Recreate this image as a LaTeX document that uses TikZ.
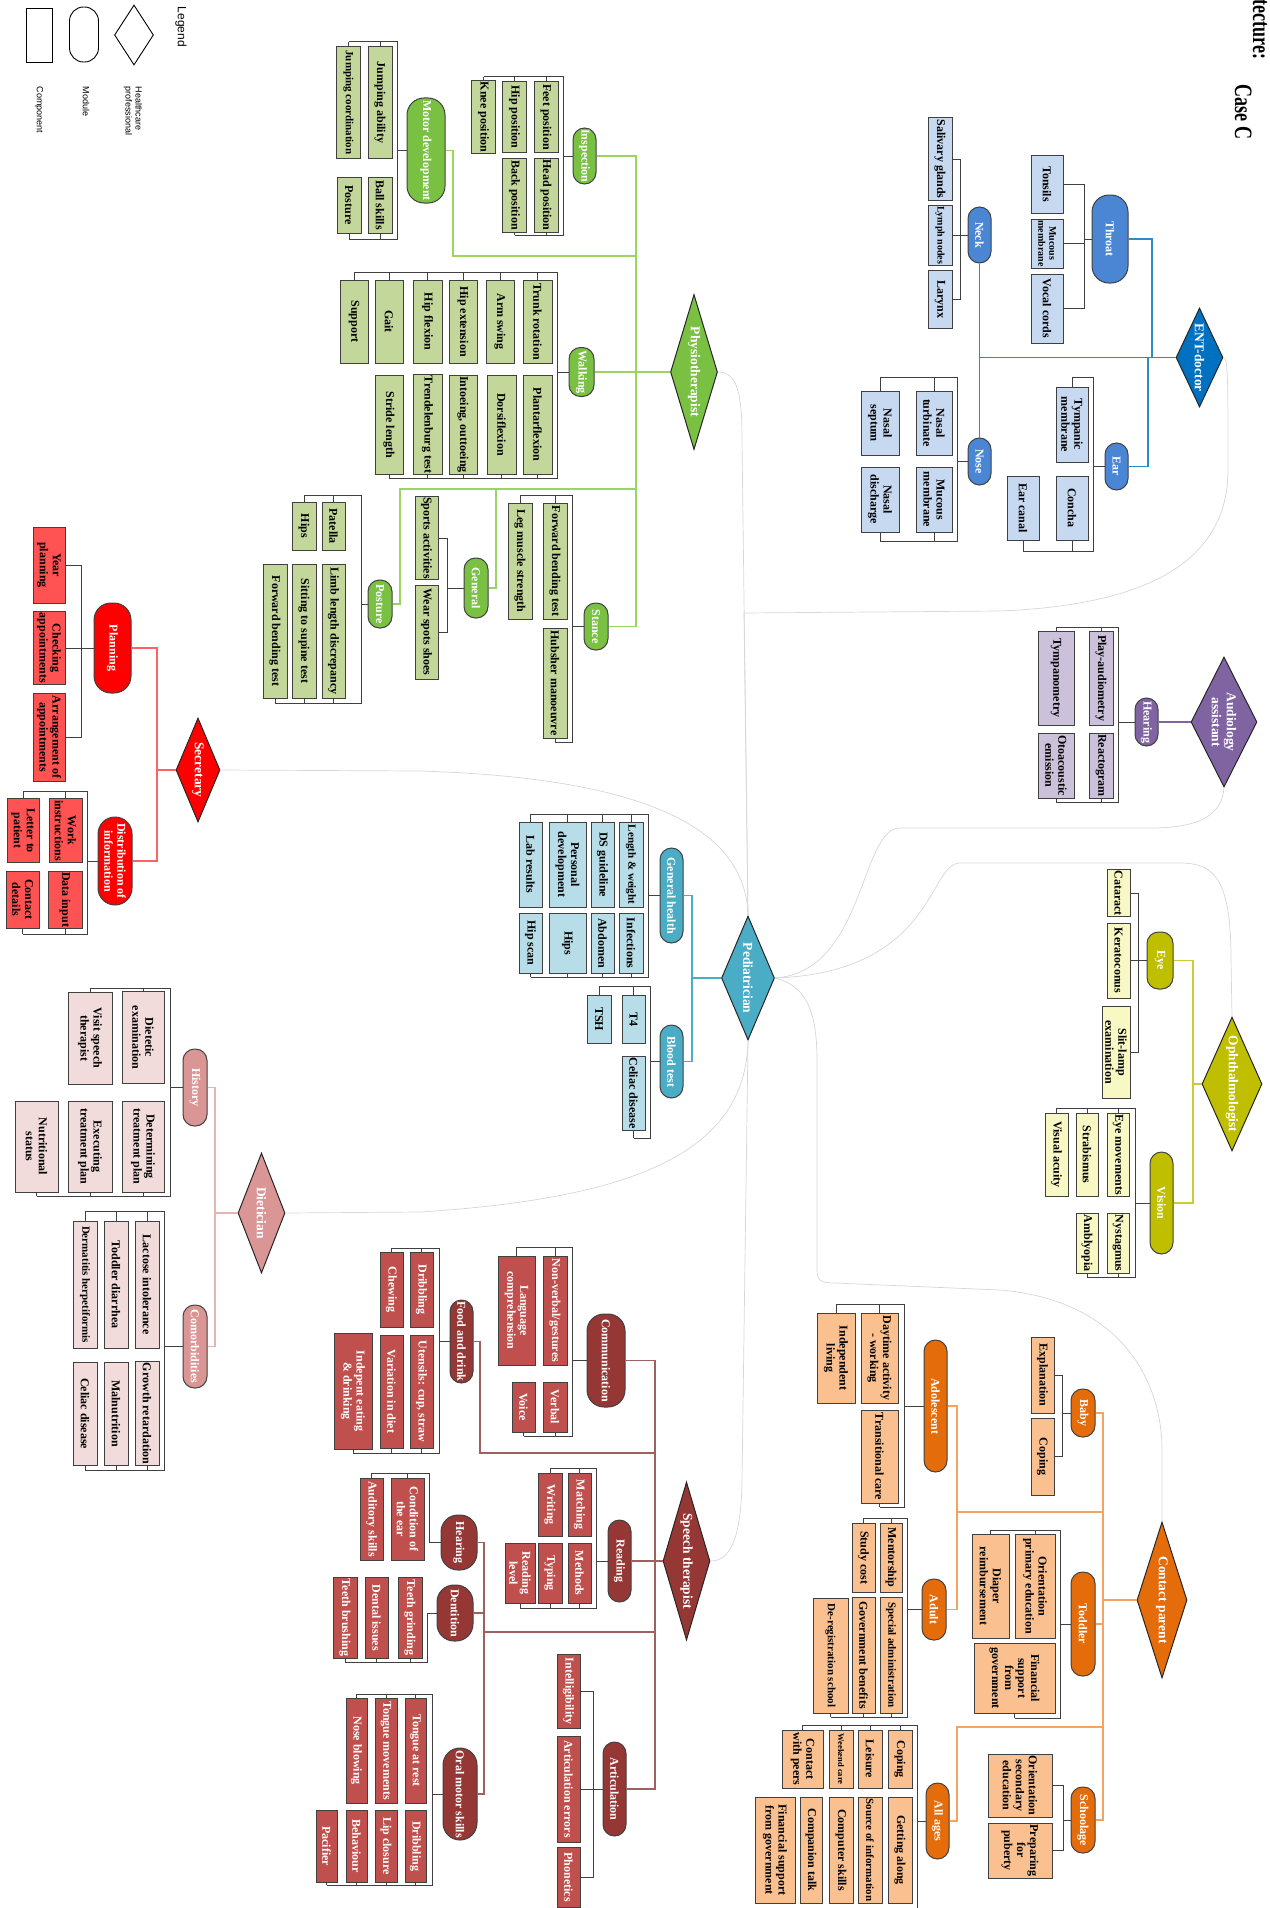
\documentclass[tikz,border=0pt]{standalone}
\usepackage{fontspec}
\setmainfont{Liberation Serif}
\newfontfamily\legendfont{Liberation Sans}
\usepackage{graphicx}
\usepackage{xcolor}
\usepackage{tikz}
\usetikzlibrary{shapes.geometric}
\definecolor{physgreen}{HTML}{7AC143}
\definecolor{physlight}{HTML}{C4D79B}
\definecolor{physline}{HTML}{9BD45F}
\definecolor{entblue}{HTML}{0070C0}
\definecolor{entmid}{HTML}{4A86D4}
\definecolor{entlight}{HTML}{C6D9F1}
\definecolor{entline}{HTML}{2E8BCB}
\definecolor{audpurple}{HTML}{8064A2}
\definecolor{audlight}{HTML}{CCC1DA}
\definecolor{ophyellow}{HTML}{BFBF00}
\definecolor{ophlight}{HTML}{F8F8C4}
\definecolor{ophline}{HTML}{CACA3A}
\definecolor{pedteal}{HTML}{4BACC6}
\definecolor{pedlight}{HTML}{B7DEE8}
\definecolor{secred}{HTML}{FF0000}
\definecolor{seclight}{HTML}{FF5252}
\definecolor{secline}{HTML}{FF6060}
\definecolor{dietrose}{HTML}{D99694}
\definecolor{dietlight}{HTML}{F2DCDB}
\definecolor{dietline}{HTML}{E8B4B3}
\definecolor{speechred}{HTML}{953735}
\definecolor{speechlight}{HTML}{C0504D}
\definecolor{speechline}{HTML}{A0605D}
\definecolor{parorange}{HTML}{E46C0A}
\definecolor{parlight}{HTML}{FAC090}
\definecolor{parline}{HTML}{F4A460}
\begin{document}
\begin{tikzpicture}[x=1pt,y=-1pt,
  box/.style={rectangle,draw=black!75,line width=1pt,rotate=-90,inner sep=1pt,align=center,font=\fontsize{12}{13}\selectfont\bfseries},
  mod/.style={rectangle,rounded corners=11.5pt,draw=black!75,line width=1pt,rotate=-90,inner sep=1pt,align=center,text=white,font=\fontsize{12}{13}\selectfont\bfseries},
  big/.style={rounded corners=17pt},
  prof/.style={diamond,aspect=3,draw=black!85,line width=1pt,rotate=-90,inner sep=0pt,align=center,text=white,font=\fontsize{13.5}{15}\selectfont\bfseries},
  wh/.style 2 args={minimum height=#1,minimum width=#2},
  nr/.style={font=\fontsize{11}{12}\selectfont\bfseries},
  sm/.style={font=\fontsize{10}{11}\selectfont\bfseries},
  xs/.style={font=\fontsize{8.5}{9.5}\selectfont\bfseries},
  brk/.style={draw=black!75,line width=1pt},
  hub/.style={draw=black!16,line width=0.7pt},
  lgtext/.style={rotate=-90,anchor=west,align=left,font=\legendfont\fontsize{9}{10}\selectfont},
  physc/.style={box,fill=physlight},physm/.style={mod,fill=physgreen},physl/.style={draw=physline,line width=1.1pt},
  entc/.style={box,fill=entlight},entm/.style={mod,fill=entmid},entl/.style={draw=entline,line width=1.1pt},
  audc/.style={box,fill=audlight},audm/.style={mod,fill=audpurple},audl/.style={draw=audpurple,line width=1.1pt},
  ophc/.style={box,fill=ophlight},ophm/.style={mod,fill=ophyellow},ophl/.style={draw=ophline,line width=1.1pt},
  pedc/.style={box,fill=pedlight},pedm/.style={mod,fill=pedteal},pedl/.style={draw=pedteal,line width=1.1pt},
  secc/.style={box,fill=seclight},secm/.style={mod,fill=secred},secl/.style={draw=secline,line width=1.1pt},
  dietc/.style={box,fill=dietlight},dietm/.style={mod,fill=dietrose},dietl/.style={draw=dietline,line width=1.1pt},
  spc/.style={box,fill=speechlight,text=white},spm/.style={mod,fill=speechred},spl/.style={draw=speechline,line width=1.1pt},
  parc/.style={box,fill=parlight},parm/.style={mod,fill=parorange},parl/.style={draw=parline,line width=1.1pt}]
\useasboundingbox (0,0) rectangle (1269,1908);

\node[rotate=-90,anchor=base east,font=\fontsize{25}{28}\selectfont\bfseries] (title1) at (1253,63) {\scalebox{0.72}[1]{Modular service architecture:}};
\node[rotate=-90,anchor=base,font=\fontsize{25}{28}\selectfont\bfseries] (title2) at (1235,112) {\scalebox{0.72}[1]{Case C}};

\node[rotate=-90,font=\legendfont\fontsize{12}{14}\selectfont] (legend) at (181,27) {Legend};
\node[diamond,draw,line width=0.9pt,rotate=-90,minimum width=60,minimum height=39,inner sep=0pt] (lgprof) at (134,35) {};
\node[rectangle,rounded corners=14pt,draw,line width=0.9pt,rotate=-90,minimum width=55,minimum height=29] (lgmod) at (84,34.5) {};
\node[rectangle,draw,line width=0.9pt,rotate=-90,minimum width=54,minimum height=26] (lgcomp) at (39,35) {};
\node[lgtext] (lgproft) at (133,83) {Healthcare\\professional};
\node[lgtext] (lgmodt) at (86,83) {Module};
\node[lgtext] (lgcompt) at (39,83) {Component};

\node[prof,fill=physgreen,wh={47}{155}] (phys) at (694,372) {Physiotherapist};
\node[physm,wh={23}{56}] (insp) at (584.5,156) {Inspection};
\node[physm,wh={25}{49}] (walk) at (581.5,372) {Walking};
\node[physm,big,wh={38}{105}] (motor) at (426,150.5) {Motor development};
\node[physm,wh={24}{47}] (stance) at (596,626.5) {Stance};
\node[physm,wh={24}{60}] (general) at (476,588) {General};
\node[physm,wh={24}{48}] (posture) at (380,604) {Posture};
\node[physc,wh={24}{70}] (feet) at (546,117) {Feet position};
\node[physc,wh={24}{70}] (hippos) at (514.5,117) {Hip position};
\node[physc,wh={24}{70}] (knee) at (483.5,117) {Knee position};
\node[physc,wh={24}{74}] (head) at (546,195) {Head position};
\node[physc,wh={24}{74}] (back) at (514.5,195) {Back position};
\node[physc,wh={24}{111}] (jumpab) at (380,102.5) {Jumping ability};
\node[physc,nr,wh={24}{111}] (jumpco) at (348.5,102.5) {Jumping coordination};
\node[physc,wh={24}{56}] (ball) at (380,205) {Ball skills};
\node[physc,wh={24}{56}] (posturec) at (349,205) {Posture};
\node[physc,wh={29}{83}] (trunk) at (537.5,321.5) {Trunk rotation};
\node[physc,wh={28}{83}] (arm) at (500,321.5) {Arm swing};
\node[physc,wh={28}{83}] (hipext) at (463,321.5) {Hip extension};
\node[physc,wh={29}{83}] (hipflex) at (427.5,321.5) {Hip flexion};
\node[physc,wh={28}{83}] (gait) at (389,321.5) {Gait};
\node[physc,wh={28}{83}] (support) at (354,321.5) {Support};
\node[physc,wh={29}{99}] (plantar) at (537.5,424.5) {Plantarflexion};
\node[physc,wh={29}{99}] (dorsi) at (501.5,424.5) {Dorsiflexion};
\node[physc,wh={28}{99}] (intoe) at (463,424.5) {Intoeing, outtoeing};
\node[physc,wh={29}{99}] (trend) at (427.5,424.5) {Trendelenburg test};
\node[physc,wh={28}{99}] (stride) at (389,424.5) {Stride length};
\node[physc,wh={24}{116}] (fwd1) at (555,561) {Forward bending test};
\node[physc,wh={24}{116}] (leg) at (520,561) {Leg muscle strength};
\node[physc,wh={24}{110}] (hubsher) at (555,683) {Hubsher manoeuvre};
\node[physc,wh={23}{83}] (sports) at (426.5,538) {Sports activities};
\node[physc,wh={23}{94}] (wear) at (426.5,632) {Wear spots shoes};
\node[physc,wh={23}{48}] (patella) at (333.5,526) {Patella};
\node[physc,wh={24}{48}] (hips) at (304,526) {Hips};
\node[physc,wh={23}{134}] (limb) at (333.5,631) {Limb length discrepancy};
\node[physc,wh={24}{134}] (sitting) at (304,631) {Sitting to supine test};
\node[physc,wh={24}{134}] (fwd2) at (275,631) {Forward bending test};

\draw[physl] (phys.south) -- (walk.north);
\draw[physl] (insp.north) -- (636,156) -- (636,626.5) -- (stance.north);
\draw[physl] (motor.north) -- (453,150.5) -- (453,256) -- (636,256);
\draw[physl] (posture.north) -| (400,489) -- (636,489);
\draw[physl] (general.north) -| (496,489);
\draw[brk] (insp.south) -- (563,156) (483.5,77) -- (563,77) -- (563,235) -- (514.5,235);
\foreach \n in {feet,hippos,knee} \draw[brk] (\n.west) -- (\n.west |- 0,77);
\foreach \n in {head,back} \draw[brk] (\n.east) -- (\n.east |- 0,235);
\draw[brk] (motor.south) -- (397,150.5) (348.5,42) -- (397,42) -- (397,239) -- (349,239);
\foreach \n in {jumpab,jumpco} \draw[brk] (\n.west) -- (\n.west |- 0,42);
\foreach \n in {ball,posturec} \draw[brk] (\n.east) -- (\n.east |- 0,239);
\draw[brk] (walk.south) -- (557,372) (354,272) -- (557,272) -- (557,478) -- (389,478);
\foreach \n in {trunk,arm,hipext,hipflex,gait,support} \draw[brk] (\n.west) -- (\n.west |- 0,272);
\foreach \n in {plantar,dorsi,intoe,trend,stride} \draw[brk] (\n.east) -- (\n.east |- 0,478);
\draw[brk] (stance.south) -- (572,626.5) (520,495) -- (572,495) -- (572,742) -- (555,742);
\foreach \n in {fwd1,leg} \draw[brk] (\n.west) -- (\n.west |- 0,495);
\draw[brk] (hubsher.east) -- (hubsher.east |- 0,742);
\draw[brk] (general.south) -- (447,588) (sports.north) -- (447,538) -- (447,632) -- (wear.north);
\draw[brk] (posture.south) -- (361,604) (304,495) -- (361,495) -- (361,703) -- (275,703);
\foreach \n in {patella,hips} \draw[brk] (\n.west) -- (\n.west |- 0,495);
\foreach \n in {limb,sitting,fwd2} \draw[brk] (\n.east) -- (\n.east |- 0,703);

\node[prof,fill=entblue,wh={47}{99}] (ent) at (1199.5,357.5) {ENT-doctor};
\node[entm,big,wh={36}{88}] (throat) at (1110,239) {Throat};
\node[entm,wh={23}{56}] (neck) at (979.5,235) {Neck};
\node[entm,wh={23}{47}] (nose) at (979.5,461.5) {Nose};
\node[entm,wh={23}{47}] (ear) at (1116.5,466.5) {Ear};
\node[entc,wh={32}{58}] (tonsils) at (1047,184) {Tonsils};
\node[entc,sm,wh={32}{49}] (mucthr) at (1047,243.5) {Mucous\\membrane};
\node[entc,wh={32}{69}] (vocal) at (1047,308.5) {Vocal cords};
\node[entc,wh={24}{82}] (saliv) at (940,159) {Salivary glands};
\node[entc,sm,wh={24}{59}] (lymph) at (940,235.5) {Lymph nodes};
\node[entc,wh={24}{58}] (larynx) at (940,299) {Larynx};
\node[entc,wh={36}{64}] (turb) at (934,423) {Nasal\\turbinate};
\node[entc,wh={38}{64}] (septum) at (880,423) {Nasal\\septum};
\node[entc,wh={36}{65}] (mucnose) at (934,499.5) {Mucous\\membrane};
\node[entc,wh={38}{65}] (disch) at (880,499.5) {Nasal\\discharge};
\node[entc,wh={32}{75}] (tymp) at (1072,424.5) {Tympanic\\membrane};
\node[entc,wh={32}{64}] (concha) at (1072,508) {Concha};
\node[entc,wh={32}{64}] (canal) at (1023,508) {Ear canal};

\draw[entl] (neck.east) -- (nose.west);
\draw[entl] (ent.south) -- (ent.south -| neck.east);
\draw[entl] (throat.north) -- (1152,239) -- (1152,357.5);
\draw[entl] (ear.north) -- (1148,466.5) -- (1148,357.5);
\draw[brk] (throat.south) -- (1084,239) (tonsils.north) -- (1084,184) -- (1084,308.5) -- (vocal.north) (mucthr.north) -- (1084,243.5);
\draw[brk] (neck.south) -- (960,235) (saliv.north) -- (960,159) -- (960,299) -- (larynx.north) (lymph.north) -- (960,235.5);
\draw[brk] (nose.south) -- (957,461.5) (880,377) -- (957,377) -- (957,541) -- (880,541);
\foreach \n in {turb,septum} \draw[brk] (\n.west) -- (\n.west |- 0,377);
\foreach \n in {mucnose,disch} \draw[brk] (\n.east) -- (\n.east |- 0,541);
\draw[brk] (ear.south) -- (1093,466.5) (1072,377) -- (1093,377) -- (1093,551) -- (1023,551);
\draw[brk] (tymp.west) -- (tymp.west |- 0,377);
\foreach \n in {concha,canal} \draw[brk] (\n.east) -- (\n.east |- 0,551);

\node[prof,fill=audpurple,aspect=2.2,wh={66}{130}] (aud) at (1224,722) {Audiology\\assistant};
\node[audm,wh={23}{48}] (hear1) at (1146.5,722) {Hearing};
\node[audc,wh={24}{94}] (play) at (1101,678) {Play-audiometry};
\node[audc,wh={36}{94}] (tympano) at (1056,678) {Tympanometry};
\node[audc,wh={24}{65}] (reacto) at (1101,765.5) {Reactogram};
\node[audc,wh={36}{65}] (oto) at (1056,765.5) {Otoacoustic\\emission};
\draw[audl] (aud.south) -- (hear1.north);
\draw[brk] (hear1.south) -- (1118,722) (1056,627) -- (1118,627) -- (1118,802) -- (1056,802);
\foreach \n in {play,tympano} \draw[brk] (\n.west) -- (\n.west |- 0,627);
\foreach \n in {reacto,oto} \draw[brk] (\n.east) -- (\n.east |- 0,802);

\node[prof,fill=ophyellow,wh={60}{128}] (oph) at (1232,1084) {Ophthalmologist};
\node[ophm,wh={26}{57}] (eye) at (1160,960.5) {Eye};
\node[ophm,wh={23}{102}] (vision) at (1161.5,1203) {Vision};
\node[ophc,wh={23}{46}] (cataract) at (1118.5,893) {Cataract};
\node[ophc,wh={23}{75}] (kerato) at (1118.5,960.5) {Keratoconus};
\node[ophc,wh={28}{92}] (slit) at (1116,1052) {Slit-lamp\\examination};
\node[ophc,wh={22}{83}] (eyemov) at (1118,1154.5) {Eye movements};
\node[ophc,wh={22}{83}] (strab) at (1087,1154.5) {Strabismus};
\node[ophc,wh={23}{83}] (visual) at (1056.5,1154.5) {Visual acuity};
\node[ophc,wh={22}{60}] (nyst) at (1118,1243) {Nystagmus};
\node[ophc,wh={22}{60}] (ambly) at (1087,1243) {Amblyopia};
\draw[ophl] (oph.south) -- (1193,1084);
\draw[ophl] (eye.north) -- (1193,960.5) -- (1193,1203) -- (vision.north);
\draw[brk] (eye.south) -- (1138,960.5) (cataract.north) -- (1138,893) -- (1138,1052) -- (slit.north) (kerato.north) -- (1138,960.5);
\draw[brk] (vision.south) -- (1135,1203) (1056.5,1108) -- (1135,1108) -- (1135,1277) -- (1087,1277);
\foreach \n in {eyemov,strab,visual} \draw[brk] (\n.west) -- (\n.west |- 0,1108);
\foreach \n in {nyst,ambly} \draw[brk] (\n.east) -- (\n.east |- 0,1277);

\node[prof,fill=pedteal,wh={53}{124}] (pedi) at (748,978) {Pediatrician};
\node[pedm,wh={23}{95}] (genh) at (671.5,895.5) {General health};
\node[pedm,wh={23}{73}] (blood) at (671.5,1061.5) {Blood test};
\node[pedc,nr,wh={24}{85}] (lenw) at (631,864.5) {Length \& weight};
\node[pedc,wh={23}{85}] (dsg) at (602.5,864.5) {DS guideline};
\node[pedc,wh={37}{85}] (persdev) at (567.5,864.5) {Personal\\development};
\node[pedc,wh={23}{85}] (lab) at (530.5,864.5) {Lab results};
\node[pedc,wh={24}{60}] (infect) at (631,943) {Infections};
\node[pedc,wh={23}{60}] (abdomen) at (602.5,943) {Abdomen};
\node[pedc,wh={37}{60}] (hips2) at (567.5,943) {Hips};
\node[pedc,wh={23}{60}] (hipscan) at (530.5,943) {Hip scan};
\node[pedc,wh={23}{48}] (t4) at (633.5,1019) {T4};
\node[pedc,wh={24}{48}] (tsh) at (599,1019) {TSH};
\node[pedc,wh={23}{74}] (celiac1) at (633.5,1093) {Celiac disease};
\draw[pedl] (pedi.south) -- (692,978);
\draw[pedl] (genh.north) -- (692,895.5) -- (692,1061.5) -- (blood.north);
\draw[brk] (genh.south) -- (648,895.5) (530.5,814) -- (648,814) -- (648,977) -- (530.5,977);
\foreach \n in {lenw,dsg,persdev,lab} \draw[brk] (\n.west) -- (\n.west |- 0,814);
\foreach \n in {infect,abdomen,hips2,hipscan} \draw[brk] (\n.east) -- (\n.east |- 0,977);
\draw[brk] (blood.south) -- (650,1061.5) (599,986) -- (650,986) -- (650,1138) -- (633.5,1138);
\foreach \n in {t4,tsh} \draw[brk] (\n.west) -- (\n.west |- 0,986);
\draw[brk] (celiac1.east) -- (celiac1.east |- 0,1138);

\node[prof,fill=secred,wh={44}{104}] (secr) at (198,770) {Secretary};
\node[secm,big,wh={37}{90}] (plan) at (112.5,648) {Planning};
\node[secm,big,wh={34}{88}] (distr) at (115,861) {Distribution of\\information};
\node[secc,wh={32}{76}] (year) at (49,565) {Year\\planning};
\node[secc,wh={32}{72}] (check) at (49,648) {Checking\\appointments};
\node[secc,wh={32}{88}] (arrange) at (49,737) {Arrangement of\\appointments};
\node[secc,wh={33}{64}] (work) at (65.5,830.5) {Work\\instructions};
\node[secc,wh={32}{64}] (letter) at (23,830.5) {Letter to\\patient};
\node[secc,wh={34}{57}] (datain) at (65,899.5) {Data input};
\node[secc,wh={33}{57}] (contact) at (22.5,899.5) {Contact\\details};
\draw[secl] (secr.south) -- (157,770);
\draw[secl] (plan.north) -- (157,648) -- (157,861) -- (distr.north);
\draw[brk] (plan.south) -- (81,648) (year.north) -- (81,565) -- (81,737) -- (arrange.north) (check.north) -- (81,648);
\draw[brk] (distr.south) -- (87,861) (23,791) -- (87,791) -- (87,934) -- (22.5,934);
\foreach \n in {work,letter} \draw[brk] (\n.west) -- (\n.west |- 0,791);
\foreach \n in {datain,contact} \draw[brk] (\n.east) -- (\n.east |- 0,934);

\node[prof,fill=dietrose,wh={47}{120}] (diet) at (261.5,1213) {Dietician};
\node[dietm,wh={24}{77}] (hist) at (195,1087.5) {History};
\node[dietm,wh={24}{83}] (comorb) at (195,1346.5) {Comorbidities};
\node[dietc,wh={42}{92}] (dietex) at (143,1037.5) {Dietetic\\examination};
\node[dietc,wh={44}{92}] (visit) at (90,1038) {Visit speech\\therapist};
\node[dietc,wh={42}{91}] (determ) at (143,1146.5) {Determining\\treatment plan};
\node[dietc,wh={44}{91}] (exec) at (90,1146.5) {Executing\\treatment plan};
\node[dietc,wh={43}{91}] (nutri) at (36.5,1146.5) {Nutritional\\status};
\node[dietc,wh={24}{127}] (lactose) at (147,1284.5) {Lactose intolerance};
\node[dietc,wh={24}{127}] (toddl) at (116,1284.5) {Toddler diarrhea};
\node[dietc,nr,wh={24}{127}] (derm) at (85,1284.5) {Dermatitis herpetiformis};
\node[dietc,wh={24}{103}] (growth) at (147,1413.5) {Growth retardation};
\node[dietc,wh={24}{103}] (malnu) at (116,1413.5) {Malnutrition};
\node[dietc,wh={24}{103}] (celiac2) at (85,1413.5) {Celiac disease};
\draw[dietl] (diet.south) -- (215,1213);
\draw[dietl] (hist.north) -- (215,1087.5) -- (215,1346.5) -- (comorb.north);
\draw[brk] (hist.south) -- (170,1087.5) (90,988) -- (170,988) -- (170,1196) -- (36.5,1196);
\foreach \n in {dietex,visit} \draw[brk] (\n.west) -- (\n.west |- 0,988);
\foreach \n in {determ,exec,nutri} \draw[brk] (\n.east) -- (\n.east |- 0,1196);
\draw[brk] (comorb.south) -- (164,1346.5) (85,1211) -- (164,1211) -- (164,1470) -- (85,1470);
\foreach \n in {lactose,toddl,derm} \draw[brk] (\n.west) -- (\n.west |- 0,1211);
\foreach \n in {growth,malnu,celiac2} \draw[brk] (\n.east) -- (\n.east |- 0,1470);

\node[prof,fill=speechred,wh={47}{158}] (speech) at (686.5,1561) {Speech therapist};
\node[spm,big,wh={38}{93}] (comm) at (606,1360.5) {Communication};
\node[spm,wh={23}{82}] (read) at (619.5,1561) {Reading};
\node[spm,wh={23}{94}] (artic) at (614.5,1789) {Articulation};
\node[spm,wh={23}{83}] (food) at (461.5,1341.5) {Food and drink};
\node[spm,big,wh={36}{55}] (hear2) at (459,1542.5) {Hearing};
\node[spm,big,wh={36}{56}] (dent) at (455,1613) {Dentition};
\node[spm,big,wh={34}{92}] (oral) at (460,1794) {Oral motor skills};
\node[spc,wh={24}{109}] (nonverb) at (555,1310.5) {Non-verbal/gestures};
\node[spc,wh={37}{109}] (lang) at (516.5,1310.5) {Language\\comprehension};
\node[spc,wh={24}{50}] (verbal) at (555,1407) {Verbal};
\node[spc,wh={23}{50}] (voice) at (523.5,1407) {Voice};
\node[spc,wh={23}{63}] (matching) at (579.5,1504.5) {Matching};
\node[spc,wh={24}{63}] (writing) at (550,1504.5) {Writing};
\node[spc,wh={23}{60}] (methods) at (579.5,1573) {Methods};
\node[spc,wh={24}{60}] (typing) at (550,1573) {Typing};
\node[spc,wh={30}{60}] (readlvl) at (520,1573) {Reading\\level};
\node[spc,wh={23}{74}] (intell) at (568.5,1691) {Intelligibility};
\node[spc,wh={23}{106}] (arterr) at (568.5,1789) {Articulation errors};
\node[spc,wh={23}{60}] (phon) at (568.5,1877) {Phonetics};
\node[spc,wh={23}{75}] (dribb1) at (421.5,1289.5) {Dribbling};
\node[spc,wh={23}{75}] (chew) at (391.5,1289.5) {Chewing};
\node[spc,wh={23}{113}] (utens) at (421.5,1391.5) {Utensils: cup, straw};
\node[spc,wh={23}{113}] (variat) at (391.5,1391.5) {Variation in diet};
\node[spc,wh={38}{116}] (indep) at (353,1391) {Indepent eating\\\& drinking};
\node[spc,wh={33}{82}] (cond) at (407.5,1519) {Condition of\\the ear};
\node[spc,wh={23}{82}] (audit) at (371.5,1519) {Auditory skills};
\node[spc,wh={24}{81}] (grind) at (410,1617.5) {Teeth grinding};
\node[spc,wh={23}{81}] (dental) at (376.5,1617.5) {Dental issues};
\node[spc,wh={24}{81}] (brush) at (345,1617.5) {Teeth brushing};
\node[spc,wh={21}{105}] (tongrest) at (415.5,1750.5) {Tongue at rest};
\node[spc,wh={22}{105}] (tongmov) at (386,1750.5) {Tongue movements};
\node[spc,wh={21}{105}] (noseb) at (356.5,1750.5) {Nose blowing};
\node[spc,wh={21}{72}] (dribb2) at (415.5,1846) {Dribbling};
\node[spc,wh={22}{72}] (lip) at (386,1846) {Lip closure};
\node[spc,wh={21}{72}] (behav) at (356.5,1846) {Behaviour};
\node[spc,wh={21}{72}] (pacif) at (326.5,1846) {Pacifier};
\draw[spl] (speech.south) -- (655,1561);
\draw[spl] (comm.north) -- (655,1360.5) -- (655,1789) -- (artic.north);
\draw[spl] (read.north) -- (655,1561);
\draw[spl] (655,1453) -- (480,1453) -- (480,1341.5) -- (food.north);
\draw[spl] (655,1632) -- (484,1632);
\draw[spl] (hear2.north) -- (484,1542.5) -- (484,1794) -- (oral.north);
\draw[spl] (dent.north) -- (484,1613);
\draw[brk] (comm.south) -- (572,1360.5) (516.5,1247) -- (572,1247) -- (572,1436) -- (523.5,1436);
\foreach \n in {nonverb,lang} \draw[brk] (\n.west) -- (\n.west |- 0,1247);
\foreach \n in {verbal,voice} \draw[brk] (\n.east) -- (\n.east |- 0,1436);
\draw[brk] (read.south) -- (596,1561) (550,1468) -- (596,1468) -- (596,1608) -- (520,1608);
\foreach \n in {matching,writing} \draw[brk] (\n.west) -- (\n.west |- 0,1468);
\foreach \n in {methods,typing,readlvl} \draw[brk] (\n.east) -- (\n.east |- 0,1608);
\draw[brk] (artic.south) -- (593,1789) (intell.north) -- (593,1691) -- (593,1877) -- (phon.north) (arterr.north) -- (593,1789);
\draw[brk] (food.south) -- (439,1341.5) (391.5,1248) -- (439,1248) -- (439,1453) -- (353,1453);
\foreach \n in {dribb1,chew} \draw[brk] (\n.west) -- (\n.west |- 0,1248);
\foreach \n in {utens,variat,indep} \draw[brk] (\n.east) -- (\n.east |- 0,1453);
\draw[brk] (hear2.south) -- (429,1542.5) -- (429,1473) -- (371.5,1473);
\foreach \n in {cond,audit} \draw[brk] (\n.west) -- (\n.west |- 0,1473);
\draw[brk] (dent.south) -- (427,1613) -- (427,1662) -- (345,1662);
\foreach \n in {grind,dental,brush} \draw[brk] (\n.east) -- (\n.east |- 0,1662);
\draw[brk] (oral.south) -- (432,1794) (356.5,1694) -- (432,1694) -- (432,1885) -- (326.5,1885);
\foreach \n in {tongrest,tongmov,noseb} \draw[brk] (\n.west) -- (\n.west |- 0,1694);
\foreach \n in {dribb2,lip,behav,pacif} \draw[brk] (\n.east) -- (\n.east |- 0,1885);

\node[prof,fill=parorange,wh={50}{156}] (cont) at (1162,1600) {Contact parent};
\node[parm,wh={24}{48}] (baby) at (1083,1413) {Baby};
\node[parm,wh={24}{104}] (toddler) at (1083,1624) {Toddler};
\node[parm,wh={24}{66}] (school) at (1083,1820) {Schoolage};
\node[parm,wh={23}{132}] (adol) at (935.5,1406) {Adolescent};
\node[parm,wh={24}{61}] (adult) at (934,1609.5) {Adult};
\node[parm,wh={23}{76}] (allages) at (937.5,1821) {All ages};
\node[parc,wh={23}{76}] (explan) at (1042.5,1375) {Explanation};
\node[parc,wh={23}{77}] (coping1) at (1042.5,1456.5) {Coping};
\node[parc,wh={40}{104}] (orprim) at (1035,1586) {Orientation\\primary education};
\node[parc,wh={37}{104}] (diaper) at (990.5,1586) {Diaper\\reimbursement};
\node[parc,wh={81}{70}] (finsup1) at (1014.5,1678) {Financial\\support\\from\\government};
\node[parc,wh={64}{63}] (orsec) at (1020,1785.5) {Orientation\\secondary\\education};
\node[parc,wh={64}{55}] (puberty) at (1020,1850.5) {Preparing\\for\\puberty};
\node[parc,wh={37}{90}] (daytime) at (879.5,1358) {Daytime activity\\- working};
\node[parc,wh={38}{90}] (indliv) at (836,1358) {Independent\\living};
\node[parc,wh={37}{93}] (transit) at (879.5,1456.5) {Transitional care};
\node[parc,wh={22}{69}] (mentor) at (891,1557.5) {Mentorship};
\node[parc,wh={23}{69}] (study) at (863.5,1557.5) {Study cost};
\node[parc,nr,wh={22}{116}] (special) at (891,1655) {Special administration};
\node[parc,wh={23}{116}] (govben) at (863.5,1655) {Government benefits};
\node[parc,nr,wh={35}{115}] (dereg) at (830.5,1655.5) {De-registration school};
\node[parc,wh={24}{58}] (coping2) at (900,1759) {Coping};
\node[parc,wh={24}{58}] (leisure) at (870,1759) {Leisure};
\node[parc,xs,wh={24}{58}] (weekend) at (841,1759) {Weekend care};
\node[parc,wh={41}{58}] (contpeer) at (802.5,1759) {Contact\\with peers};
\node[parc,wh={24}{106}] (getting) at (900,1850) {Getting along};
\node[parc,nr,wh={24}{106}] (source) at (870,1850) {Source of information};
\node[parc,wh={24}{106}] (computer) at (841,1850) {Computer skills};
\node[parc,wh={22}{106}] (compan) at (811,1850) {Companion talk};
\node[parc,wh={40}{106}] (finsup2) at (775,1850) {Financial support\\from government};
\draw[parl] (cont.south) -- (1103,1600);
\draw[parl] (baby.north) -- (1103,1413) -- (1103,1820) -- (school.north);
\draw[parl] (toddler.north) -- (1103,1624);
\draw[parl] (adol.north) -- (957,1406) -- (957,1609.5) -- (adult.north);
\draw[parl] (957,1512) -- (1103,1512);
\draw[parl] (allages.north) -- (957,1821) -- (957,1727) -- (1103,1727);
\draw[brk] (baby.south) -- (1062,1413) (explan.north) -- (1062,1375) -- (1062,1456.5) -- (coping1.north);
\draw[brk] (toddler.south) -- (1060,1624) (990.5,1530) -- (1060,1530) -- (1060,1718) -- (1014.5,1718);
\foreach \n in {orprim,diaper} \draw[brk] (\n.west) -- (\n.west |- 0,1530);
\draw[brk] (finsup1.east) -- (finsup1.east |- 0,1718);
\draw[brk] (school.south) -- (1063,1820) (orsec.north) -- (1063,1785.5) -- (1063,1850.5) -- (puberty.north);
\draw[brk] (adol.south) -- (904,1406) (836,1304) -- (904,1304) -- (904,1507) -- (879.5,1507);
\foreach \n in {daytime,indliv} \draw[brk] (\n.west) -- (\n.west |- 0,1304);
\draw[brk] (transit.east) -- (transit.east |- 0,1507);
\draw[brk] (adult.south) -- (907,1609.5) (863.5,1518) -- (907,1518) -- (907,1717) -- (830.5,1717);
\foreach \n in {mentor,study} \draw[brk] (\n.west) -- (\n.west |- 0,1518);
\foreach \n in {special,govben,dereg} \draw[brk] (\n.east) -- (\n.east |- 0,1717);
\draw[brk] (allages.south) -- (917,1821) (802.5,1725) -- (917,1725) -- (917,1908);
\foreach \n in {coping2,leisure,weekend,contpeer} \draw[brk] (\n.west) -- (\n.west |- 0,1725);

\draw[hub] (phys.north) .. controls (738,372) and (742,395) .. (742,440) -- (pedi.west);
\draw[hub] (ent.north) .. controls (1228,358) and (1228,380) .. (1228,470) .. controls (1228,560) and (1150,605) .. (1000,611) -- (744,613) -- (pedi.west);
\draw[hub] (aud.east) .. controls (1222,815) and (1200,828) .. (1150,828) -- (900,828) .. controls (860,828) and (865,972) .. (pedi.north);
\draw[hub] (oph.west) -- (1231,960) .. controls (1231,880) and (1215,863) .. (1180,863) -- (960,863) .. controls (928,863) and (935,972) .. (pedi.north);
\draw[hub] (secr.north) -- (420,771) .. controls (650,778) and (746,830) .. (pedi.west);
\draw[hub] (diet.north) -- (420,1212) .. controls (640,1198) and (746,1150) .. (pedi.east);
\draw[hub] (pedi.east) -- (742,1480) .. controls (741,1540) and (730,1561) .. (speech.north);
\draw[hub] (pedi.north) .. controls (805,985) and (817,1010) .. (817,1060) -- (817,1270) .. controls (817,1280) and (820,1283) .. (835,1283) -- (1000,1290) .. controls (1120,1300) and (1162,1380) .. (1162,1450) -- (cont.west);
\end{tikzpicture}
\end{document}
